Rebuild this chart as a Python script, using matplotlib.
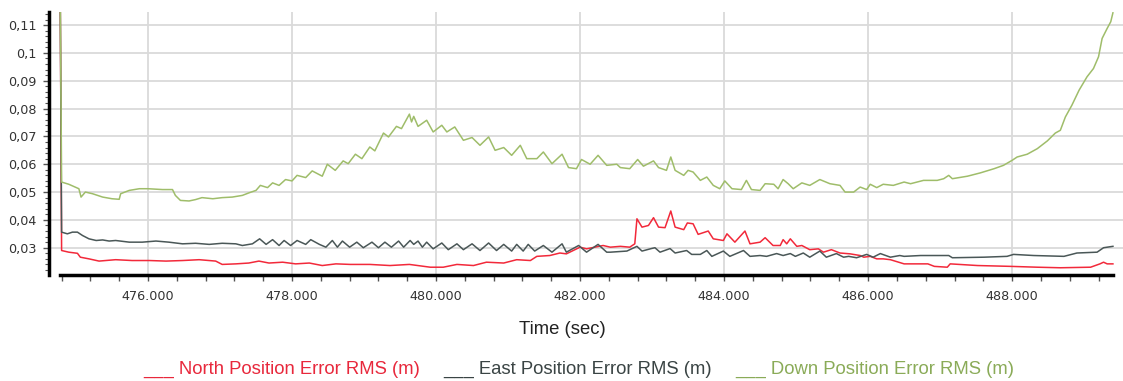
import matplotlib
matplotlib.use('Agg')
import matplotlib.pyplot as plt
from matplotlib.ticker import MultipleLocator, FuncFormatter
from matplotlib.lines import Line2D

# values (time in sec, error in m)
t_north = [474.78, 474.80, 474.90, 475.02, 475.06, 475.18, 475.32, 475.55, 475.78, 476.02,
           476.25, 476.48, 476.71, 476.94, 477.03, 477.22, 477.40, 477.54, 477.68, 477.87,
           478.05, 478.24, 478.42, 478.61, 478.81, 479.08, 479.36, 479.63, 479.92, 480.10,
           480.29, 480.52, 480.70, 480.94, 481.12, 481.31, 481.40, 481.58, 481.72, 481.81,
           482.00, 482.09, 482.32, 482.42, 482.56, 482.69, 482.76, 482.79, 482.86, 482.95,
           483.02, 483.09, 483.18, 483.26, 483.32, 483.44, 483.49, 483.57, 483.64, 483.78,
           483.85, 483.99, 484.04, 484.15, 484.29, 484.36, 484.50, 484.57, 484.68, 484.78,
           484.82, 484.87, 484.92, 485.01, 485.08, 485.19, 485.31, 485.38, 485.49, 485.61,
           485.75, 485.89, 485.94, 486.03, 486.12, 486.21, 486.31, 486.50, 486.83, 486.92,
           487.10, 487.14, 487.52, 487.98, 488.35, 488.67, 489.09, 489.22, 489.27, 489.32,
           489.40]
north = [0.125, 0.0290, 0.0284, 0.0280, 0.0266, 0.0260, 0.0252, 0.0257, 0.0254, 0.0254,
         0.0252, 0.0254, 0.0257, 0.0252, 0.0240, 0.0242, 0.0245, 0.0252, 0.0245, 0.0248,
         0.0242, 0.0245, 0.0236, 0.0242, 0.0240, 0.0240, 0.0236, 0.0240, 0.0230, 0.0230,
         0.0240, 0.0236, 0.0248, 0.0245, 0.0257, 0.0254, 0.0269, 0.0272, 0.0281, 0.0278,
         0.0302, 0.0296, 0.0308, 0.0302, 0.0305, 0.0302, 0.0314, 0.0404, 0.0374, 0.0380,
         0.0408, 0.0374, 0.0372, 0.0432, 0.0374, 0.0365, 0.0389, 0.0386, 0.0348, 0.0360,
         0.0332, 0.0326, 0.0350, 0.0320, 0.0360, 0.0314, 0.0320, 0.0336, 0.0308, 0.0308,
         0.0329, 0.0314, 0.0332, 0.0305, 0.0308, 0.0293, 0.0296, 0.0284, 0.0293, 0.0281,
         0.0278, 0.0272, 0.0266, 0.0269, 0.0260, 0.0260, 0.0257, 0.0242, 0.0242, 0.0233,
         0.0230, 0.0242, 0.0236, 0.0233, 0.0230, 0.0228, 0.0230, 0.0242, 0.0248, 0.0242,
         0.0242]

t_east = [474.78, 474.80, 474.88, 474.95, 475.02, 475.09, 475.18, 475.28, 475.37, 475.46,
          475.55, 475.74, 475.92, 476.11, 476.29, 476.48, 476.66, 476.85, 477.03, 477.22,
          477.31, 477.45, 477.55, 477.64, 477.73, 477.82, 477.89, 477.98, 478.07, 478.19,
          478.26, 478.38, 478.47, 478.56, 478.63, 478.70, 478.80, 478.90, 478.99, 479.11,
          479.20, 479.29, 479.38, 479.48, 479.55, 479.64, 479.69, 479.75, 479.81, 479.87,
          479.96, 480.08, 480.17, 480.29, 480.38, 480.50, 480.61, 480.73, 480.84, 480.94,
          481.05, 481.12, 481.21, 481.28, 481.37, 481.49, 481.61, 481.75, 481.81, 481.98,
          482.09, 482.25, 482.37, 482.42, 482.65, 482.79, 482.86, 482.99, 483.04, 483.11,
          483.25, 483.32, 483.48, 483.55, 483.67, 483.76, 483.83, 483.99, 484.08, 484.27,
          484.36, 484.50, 484.59, 484.73, 484.82, 484.92, 484.99, 485.10, 485.19, 485.33,
          485.42, 485.56, 485.66, 485.73, 485.84, 485.98, 486.07, 486.17, 486.31, 486.44,
          486.50, 486.73, 487.12, 487.17, 487.61, 487.93, 488.02, 488.30, 488.72, 488.90,
          489.18, 489.27, 489.40]
east = [0.125, 0.0356, 0.0350, 0.0356, 0.0356, 0.0344, 0.0332, 0.0326, 0.0328, 0.0324,
        0.0326, 0.0320, 0.0320, 0.0324, 0.0320, 0.0314, 0.0316, 0.0312, 0.0316, 0.0314,
        0.0308, 0.0314, 0.0332, 0.0312, 0.0329, 0.0308, 0.0326, 0.0308, 0.0326, 0.0312,
        0.0329, 0.0312, 0.0302, 0.0326, 0.0302, 0.0324, 0.0302, 0.0320, 0.0300, 0.0320,
        0.0300, 0.0320, 0.0302, 0.0324, 0.0302, 0.0326, 0.0312, 0.0324, 0.0302, 0.0320,
        0.0296, 0.0317, 0.0293, 0.0314, 0.0293, 0.0314, 0.0290, 0.0317, 0.0290, 0.0312,
        0.0288, 0.0312, 0.0288, 0.0312, 0.0288, 0.0308, 0.0284, 0.0314, 0.0284, 0.0308,
        0.0284, 0.0312, 0.0284, 0.0284, 0.0288, 0.0305, 0.0288, 0.0297, 0.0300, 0.0284,
        0.0297, 0.0281, 0.0290, 0.0276, 0.0276, 0.0290, 0.0269, 0.0288, 0.0269, 0.0290,
        0.0269, 0.0272, 0.0269, 0.0279, 0.0272, 0.0279, 0.0269, 0.0281, 0.0266, 0.0288,
        0.0266, 0.0279, 0.0266, 0.0269, 0.0264, 0.0276, 0.0266, 0.0279, 0.0266, 0.0272,
        0.0269, 0.0272, 0.0272, 0.0264, 0.0266, 0.0269, 0.0276, 0.0272, 0.0269, 0.0281,
        0.0284, 0.0300, 0.0305]

t_down = [474.78, 474.80, 474.90, 475.04, 475.07, 475.13, 475.23, 475.37, 475.50, 475.60,
          475.62, 475.74, 475.88, 476.00, 476.20, 476.34, 476.38, 476.45, 476.57, 476.66,
          476.75, 476.90, 477.03, 477.17, 477.31, 477.40, 477.50, 477.56, 477.66, 477.73,
          477.82, 477.91, 478.00, 478.07, 478.19, 478.28, 478.42, 478.49, 478.60, 478.71,
          478.78, 478.88, 478.97, 479.08, 479.15, 479.27, 479.34, 479.45, 479.52, 479.63,
          479.66, 479.69, 479.75, 479.87, 479.96, 480.08, 480.15, 480.26, 480.38, 480.50,
          480.61, 480.73, 480.82, 480.94, 481.05, 481.17, 481.26, 481.40, 481.49, 481.61,
          481.75, 481.84, 481.95, 482.02, 482.14, 482.25, 482.37, 482.51, 482.56, 482.69,
          482.80, 482.88, 483.02, 483.09, 483.20, 483.26, 483.32, 483.44, 483.50, 483.57,
          483.67, 483.76, 483.85, 483.94, 484.01, 484.11, 484.24, 484.31, 484.38, 484.50,
          484.57, 484.69, 484.75, 484.82, 484.89, 484.96, 485.08, 485.19, 485.33, 485.47,
          485.61, 485.68, 485.80, 485.89, 485.98, 486.03, 486.12, 486.21, 486.35, 486.50,
          486.59, 486.77, 486.96, 487.05, 487.12, 487.17, 487.38, 487.56, 487.75, 487.88,
          488.00, 488.07, 488.21, 488.35, 488.49, 488.60, 488.67, 488.74, 488.83, 488.93,
          489.04, 489.13, 489.20, 489.25, 489.32, 489.37, 489.40]
down = [0.125, 0.0536, 0.0528, 0.0512, 0.0482, 0.0500, 0.0494, 0.0482, 0.0476, 0.0474,
        0.0494, 0.0506, 0.0512, 0.0512, 0.0509, 0.0509, 0.0488, 0.0470, 0.0468, 0.0473,
        0.0480, 0.0476, 0.0480, 0.0482, 0.0488, 0.0497, 0.0506, 0.0524, 0.0516, 0.0533,
        0.0524, 0.0545, 0.0540, 0.0560, 0.0552, 0.0576, 0.0557, 0.0600, 0.0578, 0.0612,
        0.0602, 0.0636, 0.0620, 0.0662, 0.0648, 0.0712, 0.0698, 0.0736, 0.0728, 0.0780,
        0.0752, 0.0772, 0.0736, 0.0758, 0.0716, 0.0740, 0.0716, 0.0734, 0.0686, 0.0696,
        0.0668, 0.0698, 0.0650, 0.0660, 0.0632, 0.0668, 0.0620, 0.0620, 0.0644, 0.0602,
        0.0636, 0.0588, 0.0584, 0.0617, 0.0600, 0.0632, 0.0596, 0.0600, 0.0588, 0.0584,
        0.0617, 0.0593, 0.0612, 0.0588, 0.0578, 0.0626, 0.0578, 0.0560, 0.0578, 0.0572,
        0.0542, 0.0554, 0.0524, 0.0512, 0.0540, 0.0512, 0.0509, 0.0542, 0.0509, 0.0506,
        0.0530, 0.0528, 0.0512, 0.0545, 0.0530, 0.0512, 0.0533, 0.0524, 0.0545, 0.0530,
        0.0524, 0.0500, 0.0500, 0.0518, 0.0509, 0.0528, 0.0516, 0.0528, 0.0524, 0.0536,
        0.0530, 0.0542, 0.0542, 0.0548, 0.0560, 0.0548, 0.0557, 0.0569, 0.0584, 0.0596,
        0.0614, 0.0626, 0.0636, 0.0656, 0.0684, 0.0712, 0.0722, 0.0770, 0.0812, 0.0866,
        0.0914, 0.0944, 0.0986, 0.1052, 0.1088, 0.1112, 0.1144]

labels = ['North Position Error RMS (m)', 'East Position Error RMS (m)',
          'Down Position Error RMS (m)']
line_colors = ['#f2293a', '#4a5757', '#9fbd6a']
text_colors = ['#e8283c', '#3a4444', '#8aab58']
xticks = [476, 478, 480, 482, 484, 486, 488]
yticks = [0.03, 0.04, 0.05, 0.06, 0.07, 0.08, 0.09, 0.10, 0.11]

fig = plt.figure(figsize=(11.23, 3.81), dpi=100)
ax = fig.add_axes([49 / 1123, 1 - 275 / 381, 1074 / 1123, 263 / 381])

ax.plot(t_north, north, color=line_colors[0], lw=1.1)
ax.plot(t_east, east, color=line_colors[1], lw=1.1)
ax.plot(t_down, down, color=line_colors[2], lw=1.1)

ax.set_xlim(474.625, 489.54)
ax.set_ylim(0.0202, 0.1147)

ax.set_xticks(xticks)
ax.xaxis.set_major_formatter(FuncFormatter(lambda v, p: f'{v:.3f}'))
ax.xaxis.set_minor_locator(MultipleLocator(0.4))
ax.set_yticks(yticks)
ax.yaxis.set_major_formatter(
    FuncFormatter(lambda v, p: f'{v:.2f}'.rstrip('0').replace('.', ',')))
ax.yaxis.set_minor_locator(MultipleLocator(0.002))

ax.tick_params(axis='both', which='both', direction='out', color='#555555',
               labelsize=9.2, labelcolor='#333333')
ax.tick_params(axis='x', which='both', length=4, width=1, pad=7)
ax.tick_params(axis='y', which='major', length=4, width=1, pad=5)
ax.tick_params(axis='y', which='minor', length=3, width=0.8)
for lab in ax.get_xticklabels() + ax.get_yticklabels():
    lab.set_family('DejaVu Sans')

ax.grid(True, which='major', color='#dadada', linewidth=1.3)
ax.set_axisbelow(True)

ax.spines['top'].set_visible(False)
ax.spines['right'].set_visible(False)
ax.spines['left'].set_linewidth(2.5)
ax.spines['left'].set_color('black')
ax.spines['bottom'].set_linewidth(2.5)
ax.spines['bottom'].set_color('black')
ax.spines['bottom'].set_bounds(t_down[0], t_down[-1])

fig.text(562 / 1123, 1 - 330 / 381, 'Time (sec)', ha='center', va='center',
         fontsize=13.3, family='Liberation Sans', color='#222222')

handles = [Line2D([], [], linestyle='none') for _ in labels]
leg = fig.legend(handles, ['___ ' + s for s in labels], loc='center',
                 bbox_to_anchor=(579 / 1123, 1 - 369 / 381), ncol=3, frameon=False,
                 handlelength=0, handletextpad=0, columnspacing=1.25,
                 prop={'family': 'Liberation Sans', 'size': 13.3},
                 labelcolor=text_colors)

fig.savefig('out.png', dpi=100)
